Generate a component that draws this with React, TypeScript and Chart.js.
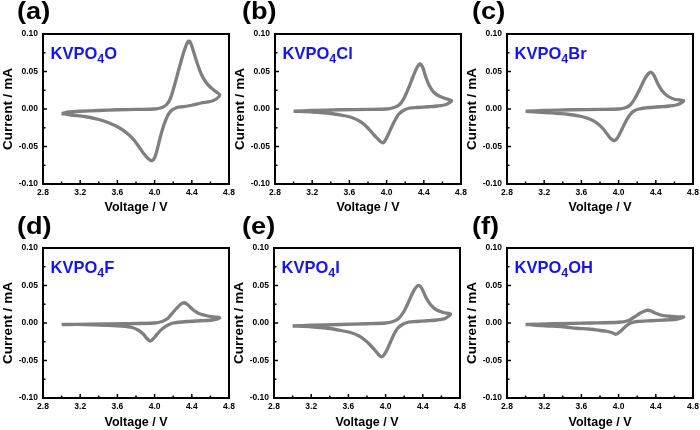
import React, { useEffect, useRef } from 'react';
import { Chart, registerables } from 'chart.js';

Chart.register(...registerables);

const FONT = "'Liberation Sans', Arial, Helvetica, sans-serif";
const LINE_COLOR = '#7f7f7f';
const LABEL_BLUE = '#1414f0';

// Axis ticks
const xTickValues = [2.8, 3.2, 3.6, 4.0, 4.4, 4.8];
const xMinorValues = [3.0, 3.4, 3.8, 4.2, 4.6];
const yTickValues = [-0.1, -0.05, 0.0, 0.05, 0.1];
const yMinorValues = [-0.075, -0.025, 0.025, 0.075];

// Panel texts
const panelLetters = ['(a)', '(b)', '(c)', '(d)', '(e)', '(f)'];
const compoundSuffixes = ['O', 'Cl', 'Br', 'F', 'I', 'OH'];

// (a) KVPO4O  (anodic sweep 3.0 -> 4.7, then cathodic sweep back to 3.0)
const voltageA = [3.00, 3.08, 3.20, 3.40, 3.60, 3.80, 4.00, 4.08, 4.13, 4.17, 4.21, 4.25, 4.29, 4.33, 4.36, 4.38, 4.41, 4.45, 4.50, 4.55, 4.60, 4.65, 4.70, 4.66, 4.60, 4.50, 4.40, 4.30, 4.24, 4.18, 4.14, 4.10, 4.06, 4.03, 4.00, 3.97, 3.93, 3.88, 3.83, 3.77, 3.70, 3.62, 3.50, 3.40, 3.25, 3.10, 3.00];
const currentA = [-0.006, -0.004, -0.003, -0.002, -0.001, -0.0005, 0.000, 0.002, 0.006, 0.014, 0.030, 0.048, 0.066, 0.082, 0.090, 0.090, 0.080, 0.064, 0.047, 0.036, 0.029, 0.024, 0.019, 0.013, 0.010, 0.008, 0.005, 0.003, 0.002, -0.002, -0.009, -0.021, -0.038, -0.053, -0.065, -0.069, -0.066, -0.059, -0.050, -0.040, -0.032, -0.025, -0.018, -0.014, -0.010, -0.008, -0.006];

// (b) KVPO4Cl
const voltageB = [3.00, 3.20, 3.50, 3.80, 4.00, 4.08, 4.14, 4.19, 4.24, 4.29, 4.33, 4.36, 4.39, 4.42, 4.46, 4.51, 4.57, 4.63, 4.70, 4.64, 4.55, 4.45, 4.33, 4.24, 4.18, 4.13, 4.09, 4.05, 4.01, 3.98, 3.96, 3.93, 3.89, 3.84, 3.78, 3.72, 3.64, 3.55, 3.40, 3.20, 3.00];
const currentB = [-0.003, -0.002, -0.001, -0.0005, 0.000, 0.002, 0.006, 0.015, 0.029, 0.045, 0.056, 0.060, 0.055, 0.043, 0.031, 0.022, 0.017, 0.014, 0.011, 0.006, 0.004, 0.003, 0.002, 0.001, -0.002, -0.007, -0.015, -0.025, -0.036, -0.043, -0.045, -0.043, -0.038, -0.031, -0.023, -0.017, -0.012, -0.009, -0.006, -0.004, -0.003];

// (c) KVPO4Br
const voltageC = [3.00, 3.20, 3.50, 3.80, 4.00, 4.08, 4.13, 4.18, 4.23, 4.28, 4.32, 4.35, 4.38, 4.42, 4.47, 4.53, 4.60, 4.70, 4.64, 4.55, 4.45, 4.33, 4.22, 4.16, 4.12, 4.08, 4.04, 4.00, 3.97, 3.95, 3.92, 3.88, 3.83, 3.77, 3.70, 3.60, 3.45, 3.25, 3.00];
const currentC = [-0.003, -0.002, -0.001, -0.0005, 0.000, 0.002, 0.006, 0.015, 0.027, 0.040, 0.047, 0.049, 0.045, 0.034, 0.024, 0.017, 0.013, 0.011, 0.006, 0.004, 0.003, 0.002, 0.000, -0.003, -0.008, -0.016, -0.026, -0.036, -0.041, -0.042, -0.040, -0.034, -0.026, -0.019, -0.014, -0.010, -0.007, -0.005, -0.003];

// (d) KVPO4F
const voltageD = [3.00, 3.30, 3.70, 4.00, 4.08, 4.14, 4.19, 4.24, 4.28, 4.32, 4.36, 4.41, 4.47, 4.55, 4.63, 4.70, 4.62, 4.50, 4.35, 4.20, 4.14, 4.09, 4.04, 4.00, 3.97, 3.95, 3.92, 3.88, 3.83, 3.76, 3.65, 3.50, 3.25, 3.00];
const currentD = [-0.002, -0.0015, -0.001, 0.000, 0.002, 0.006, 0.013, 0.020, 0.025, 0.027, 0.024, 0.018, 0.013, 0.010, 0.008, 0.007, 0.004, 0.003, 0.002, 0.000, -0.003, -0.007, -0.013, -0.019, -0.023, -0.024, -0.021, -0.015, -0.010, -0.006, -0.004, -0.003, -0.002, -0.002];

// (e) KVPO4I
const voltageE = [3.00, 3.20, 3.50, 3.80, 4.00, 4.08, 4.14, 4.19, 4.24, 4.29, 4.33, 4.36, 4.39, 4.43, 4.48, 4.54, 4.62, 4.70, 4.64, 4.55, 4.45, 4.33, 4.24, 4.18, 4.13, 4.09, 4.05, 4.01, 3.98, 3.96, 3.93, 3.89, 3.84, 3.78, 3.71, 3.63, 3.52, 3.38, 3.20, 3.00];
const currentE = [-0.004, -0.003, -0.002, -0.001, 0.000, 0.002, 0.006, 0.014, 0.026, 0.040, 0.048, 0.050, 0.046, 0.035, 0.025, 0.018, 0.014, 0.012, 0.006, 0.004, 0.003, 0.002, 0.001, -0.002, -0.007, -0.015, -0.026, -0.037, -0.043, -0.045, -0.043, -0.037, -0.030, -0.023, -0.017, -0.013, -0.010, -0.007, -0.005, -0.004];

// (f) KVPO4OH
const voltageF = [3.00, 3.30, 3.70, 4.00, 4.10, 4.17, 4.23, 4.28, 4.31, 4.35, 4.40, 4.47, 4.55, 4.63, 4.70, 4.62, 4.50, 4.35, 4.20, 4.13, 4.08, 4.03, 3.99, 3.97, 3.93, 3.87, 3.80, 3.68, 3.55, 3.40, 3.25, 3.10, 3.00];
const currentF = [-0.002, -0.001, 0.000, 0.001, 0.003, 0.008, 0.013, 0.016, 0.017, 0.016, 0.013, 0.010, 0.009, 0.008, 0.008, 0.005, 0.004, 0.003, 0.002, 0.000, -0.004, -0.010, -0.014, -0.015, -0.013, -0.011, -0.010, -0.008, -0.007, -0.005, -0.004, -0.003, -0.002];

const voltages = [voltageA, voltageB, voltageC, voltageD, voltageE, voltageF];
const currents = [currentA, currentB, currentC, currentD, currentE, currentF];

// Layout of the six panels (canvas placement)
const CANVAS_W = 236;
const CANVAS_H = 215;
const Y_AXIS_W = 43;
const PLOT_W = 186;
const panelLayout = [
  { left: 0, top: 0, padTop: 34, xAxisH: 31, letterX: 17 },
  { left: 232, top: 0, padTop: 34, xAxisH: 31, letterX: 10 },
  { left: 464, top: 0, padTop: 34, xAxisH: 31, letterX: 8 },
  { left: 0, top: 215, padTop: 33, xAxisH: 32, letterX: 17 },
  { left: 231, top: 215, padTop: 33, xAxisH: 32, letterX: 11 },
  { left: 464, top: 215, padTop: 33, xAxisH: 32, letterX: 8 },
];

const decorPlugin = {
  id: 'cvDecor',
  afterDraw(chart: any, _args: any, opts: any) {
    const { ctx, chartArea, scales } = chart;
    const { left, top, right, bottom } = chartArea;
    const xs = scales.x;
    const ys = scales.y;
    ctx.save();
    // frame
    ctx.strokeStyle = '#000';
    ctx.lineWidth = 2;
    ctx.strokeRect(left, top, right - left, bottom - top);
    // inward ticks
    ctx.lineWidth = 1.5;
    ctx.beginPath();
    xTickValues.forEach((v) => {
      const px = xs.getPixelForValue(v);
      ctx.moveTo(px, bottom);
      ctx.lineTo(px, bottom - 4);
    });
    xMinorValues.forEach((v) => {
      const px = xs.getPixelForValue(v);
      ctx.moveTo(px, bottom);
      ctx.lineTo(px, bottom - 2.5);
    });
    yTickValues.forEach((v) => {
      const py = ys.getPixelForValue(v);
      ctx.moveTo(left, py);
      ctx.lineTo(left + 4, py);
    });
    yMinorValues.forEach((v) => {
      const py = ys.getPixelForValue(v);
      ctx.moveTo(left, py);
      ctx.lineTo(left + 2.5, py);
    });
    ctx.stroke();

    // panel letter
    ctx.fillStyle = '#000';
    ctx.textBaseline = 'alphabetic';
    ctx.textAlign = 'left';
    ctx.font = `bold 23px ${FONT}`;
    ctx.save();
    ctx.translate(opts.letterX, 19.2);
    ctx.scale(1.18, 1);
    ctx.fillText(opts.letter, 0, 0);
    ctx.restore();

    // compound label KVPO4X
    ctx.fillStyle = LABEL_BLUE;
    let tx = left + 7.5;
    const base = top + 24.5;
    ctx.font = `bold 16.5px ${FONT}`;
    ctx.fillText('KVPO', tx, base);
    tx += ctx.measureText('KVPO').width;
    ctx.font = `bold 12.5px ${FONT}`;
    ctx.fillText('4', tx, base + 4.5);
    tx += ctx.measureText('4').width;
    ctx.font = `bold 16.5px ${FONT}`;
    ctx.fillText(opts.suffix, tx, base);
    ctx.restore();
  },
};

function Panel({ index }: { index: number }) {
  const ref = useRef<HTMLCanvasElement | null>(null);
  const lay = panelLayout[index];

  useEffect(() => {
    if (!ref.current) return;
    const volt = voltages[index];
    const curr = currents[index];
    const chart = new Chart(ref.current, {
      type: 'scatter',
      data: {
        datasets: [
          {
            data: volt.map((v, i) => ({ x: v, y: curr[i] })),
            showLine: true,
            borderColor: LINE_COLOR,
            backgroundColor: LINE_COLOR,
            borderWidth: 3.3,
            pointRadius: 0,
            tension: 0.25,
            fill: false,
          },
        ],
      },
      options: {
        responsive: false,
        animation: false,
        events: [],
        layout: { padding: { top: lay.padTop, right: CANVAS_W - Y_AXIS_W - PLOT_W, left: 0, bottom: 0 } },
        plugins: {
          legend: { display: false },
          tooltip: { enabled: false },
          cvDecor: {
            letter: panelLetters[index],
            suffix: compoundSuffixes[index],
            letterX: lay.letterX,
          },
        } as any,
        scales: {
          x: {
            type: 'linear',
            position: 'bottom',
            min: 2.8,
            max: 4.8,
            grid: { display: false, drawTicks: false, tickLength: 0 },
            border: { display: false },
            afterBuildTicks: (s: any) => {
              s.ticks = xTickValues.map((v) => ({ value: v }));
            },
            afterFit: (s: any) => {
              s.height = lay.xAxisH;
              s.paddingLeft = 0;
              s.paddingRight = 0;
            },
            ticks: {
              padding: 4,
              color: '#000',
              maxRotation: 0,
              autoSkip: false,
              font: { family: FONT, size: 8.5, weight: 'bold' },
              callback: (v: any) => Number(v).toFixed(1),
            },
            title: {
              display: true,
              text: 'Voltage / V',
              color: '#000',
              font: { family: FONT, size: 12.5, weight: 'bold' },
              padding: { top: 0, bottom: 0 },
            },
          },
          y: {
            type: 'linear',
            position: 'left',
            min: -0.1,
            max: 0.1,
            grid: { display: false, drawTicks: false, tickLength: 0 },
            border: { display: false },
            afterBuildTicks: (s: any) => {
              s.ticks = yTickValues.map((v) => ({ value: v }));
            },
            afterFit: (s: any) => {
              s.width = Y_AXIS_W;
              s.paddingTop = 0;
              s.paddingBottom = 0;
            },
            ticks: {
              padding: 5,
              color: '#000',
              autoSkip: false,
              font: { family: FONT, size: 8.5, weight: 'bold' },
              callback: (v: any) => {
                const n = Number(v);
                return (Math.abs(n) < 1e-9 ? 0 : n).toFixed(2);
              },
            },
            title: {
              display: true,
              text: 'Current / mA',
              color: '#000',
              font: { family: FONT, size: 13.5, weight: 'bold' },
              padding: { top: 0, bottom: 0 },
            },
          },
        },
      } as any,
      plugins: [decorPlugin as any],
    });
    return () => chart.destroy();
  }, [index]);

  return (
    <div
      style={{
        position: 'absolute',
        left: lay.left,
        top: lay.top,
        width: CANVAS_W,
        height: CANVAS_H,
      }}
    >
      <canvas ref={ref} width={CANVAS_W} height={CANVAS_H} style={{ display: 'block' }} />
    </div>
  );
}

export default function App() {
  return (
    <div
      style={{
        position: 'absolute',
        left: 0,
        top: 0,
        width: 700,
        height: 430,
        overflow: 'hidden',
        background: '#fff',
      }}
    >
      {panelLetters.map((_, i) => (
        <Panel key={i} index={i} />
      ))}
    </div>
  );
}
